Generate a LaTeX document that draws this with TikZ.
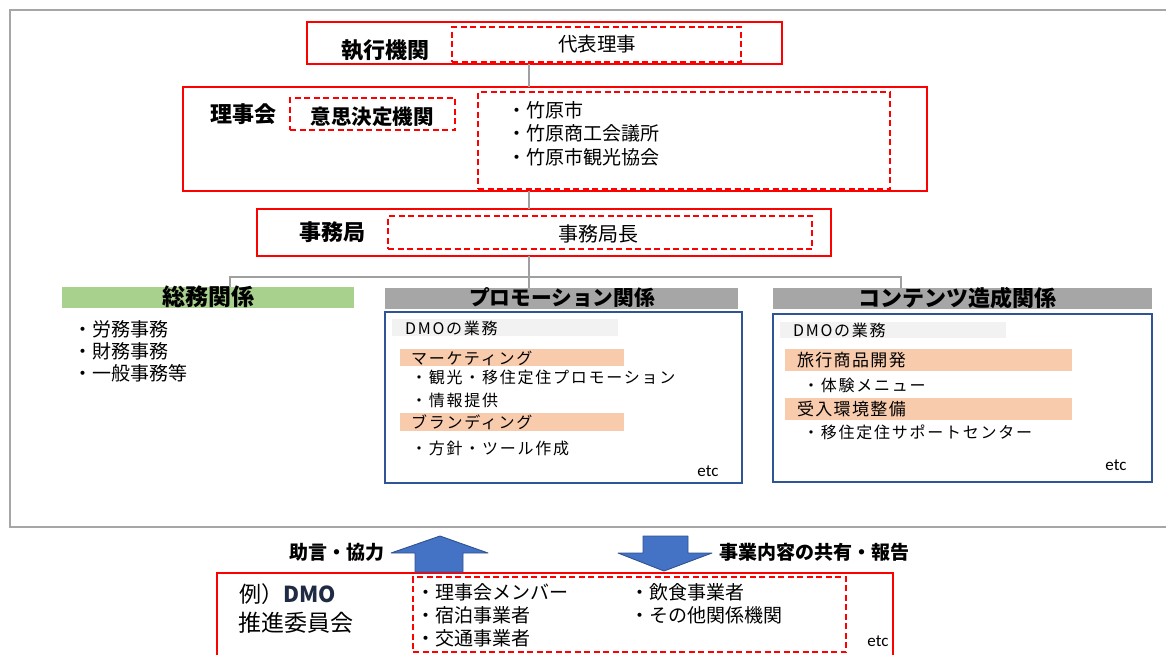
\documentclass[tikz,border=0pt]{standalone}
\usepackage{fontspec}
\setmainfont{Noto Sans CJK JP}
\newfontfamily\etcfont{Carlito}
\newfontfamily\spaced[LetterSpace=11]{Noto Sans CJK JP}
\newfontfamily\spacedb[LetterSpace=8]{Noto Sans CJK JP}
\definecolor{dmored}{HTML}{FF0000}
\definecolor{framegray}{HTML}{A6A6A6}
\definecolor{conngray}{HTML}{A0A0A0}
\definecolor{barpink}{HTML}{F8CBAD}
\definecolor{bargreen}{HTML}{A9D18E}
\definecolor{bargray}{HTML}{A6A6A6}
\definecolor{barlight}{HTML}{F2F2F2}
\definecolor{boxblue}{HTML}{2F5597}
\definecolor{arrowfill}{HTML}{4472C4}
\definecolor{arrowline}{HTML}{2F528F}
\definecolor{navy}{HTML}{1F2A44}
\newcommand\mkbox[6]{\node[#6, inner sep=0pt, outer sep=0pt, minimum width={(#4)-(#2)}, minimum height={(#5)-(#3)}] (#1) at ({((#2)+(#4))/2},{((#3)+(#5))/2}) {};}
\tikzset{
  redbox/.style={draw=dmored, line width=2.6pt},
  redboxthin/.style={draw=dmored, line width=1.8pt},
  reddash/.style={draw=dmored, line width=2pt, dash pattern=on 6pt off 3.5pt},
  conn/.style={draw=conngray, line width=1.1pt},
  bluebox/.style={draw=boxblue, line width=2.5pt},
  greenbar/.style={fill=bargreen},
  graybar/.style={fill=bargray},
  lightbar/.style={fill=barlight},
  pinkbar/.style={fill=barpink},
  blockarrow/.style={fill=arrowfill, draw=arrowline, line width=0.9pt, line join=round},
  txt/.style={inner sep=0pt, outer sep=0pt, anchor=west, text=black},
  ctxt/.style={inner sep=0pt, outer sep=0pt, anchor=center, text=black},
  small/.style={font=\spaced\fontsize{16}{18}\selectfont},
  head/.style={font=\spacedb\fontsize{17}{19}\selectfont},
  etcstyle/.style={font=\etcfont\fontsize{17}{19}\selectfont},
}
\begin{document}
\begin{tikzpicture}[x=1pt,y=-1pt]
\useasboundingbox (0,0) rectangle (1166,654);
\clip (0,0) rectangle (1166,654);
% outer frame
\draw[draw=framegray, line width=2.6pt] (10,10) rectangle (1180,527);

% top boxes
\mkbox{exec}{307}{22}{782}{64}{redbox}
\mkbox{execin}{452}{27}{741}{62}{reddash}
\node[ctxt, font=\bfseries\fontsize{22}{24}\selectfont] (exect) at (385,50) {執行機関};
\node[ctxt, font=\fontsize{19.5}{22}\selectfont] (rep) at (597,44) {代表理事};

\mkbox{board}{183}{87}{927}{191}{redbox}
\mkbox{decide}{290}{98}{455}{130}{reddash}
\mkbox{members}{478}{92}{890}{189}{reddash}
\node[ctxt, font=\bfseries\fontsize{22}{24}\selectfont] (boardt) at (243,114) {理事会};
\node[ctxt, font=\bfseries\fontsize{20.5}{23}\selectfont] (decidet) at (372,117) {意思決定機関};
\node[txt, font=\fontsize{19}{21}\selectfont] (m1) at (507,110) {・竹原市};
\node[txt, font=\fontsize{19}{21}\selectfont] (m2) at (507,133) {・竹原商工会議所};
\node[txt, font=\fontsize{19}{21}\selectfont] (m3) at (507,157) {・竹原市観光協会};

\mkbox{bureau}{257}{209}{831}{256}{redbox}
\mkbox{chief}{388}{216}{812}{249}{reddash}
\node[ctxt, font=\bfseries\fontsize{22}{24}\selectfont] (bureaut) at (332,232) {事務局};
\node[ctxt, font=\fontsize{20}{22}\selectfont] (chieft) at (598,234) {事務局長};

% department bars
\mkbox{gen}{62}{287}{354}{308}{greenbar}
\mkbox{promo}{385}{288}{738}{309}{graybar}
\mkbox{cont}{773}{288}{1152}{309}{graybar}
\node[ctxt, font=\bfseries\fontsize{23}{25}\selectfont] (gent) at (208,297) {総務関係};
\node[ctxt, font=\bfseries\fontsize{20.7}{23}\selectfont] (promot) at (562,298) {プロモーション関係};
\node[ctxt, font=\bfseries\fontsize{22}{24}\selectfont] (contt) at (957,298) {コンテンツ造成関係};

% connectors
\coordinate (spine) at (529,0);
\coordinate (bL) at (230,277);
\coordinate (bR) at (901,277);
\draw[conn] (exec.south -| spine) -- (board.north -| spine);
\draw[conn] (board.south -| spine) -- (bureau.north -| spine);
\draw[conn] (bureau.south -| spine) -- (promo.north -| spine);
\draw[conn] (gen.north -| bL) -- (bL) -- (bR) -- (cont.north -| bR);

% general affairs list
\node[txt, font=\fontsize{19}{21}\selectfont] (g1) at (73,329) {・労務事務};
\node[txt, font=\fontsize{19}{21}\selectfont] (g2) at (73,351) {・財務事務};
\node[txt, font=\fontsize{19}{21}\selectfont] (g3) at (73,373) {・一般事務等};

% promotion box
\mkbox{pbox}{385}{312}{742}{483}{bluebox}
\mkbox{pdmo}{392}{319}{618}{336}{lightbar}
\mkbox{pmk}{400}{349}{624}{366}{pinkbar}
\mkbox{pbr}{400}{413}{624}{431}{pinkbar}
\node[txt, small] (pdmot) at (405,328) {DMOの業務};
\node[txt, small] (pmkt) at (411,358) {マーケティング};
\node[txt, small] (p1) at (411,377) {・観光・移住定住プロモーション};
\node[txt, small] (p2) at (411,400) {・情報提供};
\node[txt, small] (pbrt) at (411,422) {ブランディング};
\node[txt, small] (p3) at (411,448) {・方針・ツール作成};
\node[ctxt, etcstyle] (petc) at (708,471) {etc};

% contents box
\mkbox{cbox}{773}{314}{1152}{482}{bluebox}
\mkbox{cdmo}{780}{322}{1006}{338}{lightbar}
\mkbox{ctr}{785}{349}{1072}{371}{pinkbar}
\mkbox{cen}{785}{398}{1072}{420}{pinkbar}
\node[txt, small] (cdmot) at (793,330) {DMOの業務};
\node[txt, head] (ctrt) at (797,360) {旅行商品開発};
\node[txt, small] (c1) at (803,385) {・体験メニュー};
\node[txt, head] (cent) at (797,409) {受入環境整備};
\node[txt, small] (c2) at (803,432) {・移住定住サポートセンター};
\node[ctxt, etcstyle] (cetc) at (1116,465) {etc};

% bottom committee
\mkbox{comm}{217}{573}{893}{680}{redboxthin}
\mkbox{commin}{413}{577}{846}{652}{reddash}
\node[txt, font=\fontsize{22}{24}\selectfont] (ex) at (239,594) {例）\textcolor{navy}{\bfseries DMO}};
\node[txt, font=\fontsize{23}{25}\selectfont] (commt) at (238,623) {推進委員会};
\node[txt, font=\fontsize{19}{21}\selectfont] (k1) at (416,592) {・理事会メンバー};
\node[txt, font=\fontsize{19}{21}\selectfont] (k2) at (416,615) {・宿泊事業者};
\node[txt, font=\fontsize{19}{21}\selectfont] (k3) at (416,638) {・交通事業者};
\node[txt, font=\fontsize{19}{21}\selectfont] (k4) at (630,592) {・飲食事業者};
\node[txt, font=\fontsize{19}{21}\selectfont] (k5) at (630,615) {・その他関係機関};
\node[ctxt, etcstyle] (ketc) at (878,641) {etc};

% block arrows
\draw[blockarrow] (440,536) -- (488,553) -- (463,553) -- (463,572) -- (415,572) -- (415,553) -- (391,553) -- cycle;
\draw[blockarrow] (643,536) -- (688,536) -- (688,553) -- (712,553) -- (664,571) -- (618,553) -- (643,553) -- cycle;
\node[ctxt, font=\bfseries\fontsize{19}{21}\selectfont] (advice) at (337,552) {助言・協力};
\node[ctxt, font=\bfseries\fontsize{19}{21}\selectfont] (report) at (814,552) {事業内容の共有・報告};
\end{tikzpicture}
\end{document}
